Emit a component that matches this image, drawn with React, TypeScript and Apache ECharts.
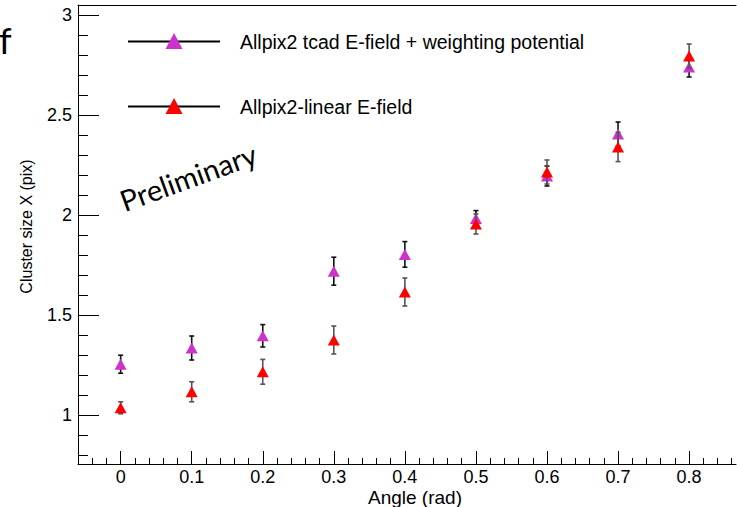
import React, { useEffect, useRef } from "react";
import * as echarts from "echarts";

const angles = [0, 0.1, 0.2, 0.3, 0.4, 0.5, 0.6, 0.7, 0.8];
const tcadValues = [1.254, 1.335, 1.396, 1.719, 1.803, 1.982, 2.195, 2.405, 2.74];
const tcadErrors = [0.045, 0.06, 0.056, 0.07, 0.064, 0.04, 0.05, 0.06, 0.05];
const linearValues = [1.036, 1.116, 1.216, 1.375, 1.615, 1.955, 2.215, 2.34, 2.795];
const linearErrors = [0.03, 0.05, 0.062, 0.07, 0.07, 0.05, 0.06, 0.073, 0.06];

const xMajorTicks = [0, 0.1, 0.2, 0.3, 0.4, 0.5, 0.6, 0.7, 0.8];
const xMinorTicks = [-0.04, -0.02, 0.02, 0.04, 0.06, 0.08, 0.12, 0.14, 0.16, 0.18, 0.22, 0.24, 0.26, 0.28, 0.32, 0.34, 0.36, 0.38, 0.42, 0.44, 0.46, 0.48, 0.52, 0.54, 0.56, 0.58, 0.62, 0.64, 0.66, 0.68, 0.72, 0.74, 0.76, 0.78, 0.82, 0.84, 0.86];
const yMajorTicks = [1, 1.5, 2, 2.5, 3];
const yMinorTicks = [0.8, 0.9, 1.1, 1.2, 1.3, 1.4, 1.6, 1.7, 1.8, 1.9, 2.1, 2.2, 2.3, 2.4, 2.6, 2.7, 2.8, 2.9, 3.0];

const legendLabels = ["Allpix2 tcad E-field + weighting potential", "Allpix2-linear E-field"];
const xTitle = "Angle (rad)";
const yTitle = "Cluster size X (pix)";

const MAGENTA = "#cc33cc";
const RED = "#ff0000";
const FONT = "'Liberation Sans', Arial, Helvetica, sans-serif";

function errorBarSeries(values: number[], errors: number[], color: string, z: number) {
  return {
    type: "custom",
    xAxisIndex: 0,
    yAxisIndex: 0,
    z,
    silent: true,
    encode: { x: 0, y: 1 },
    data: angles.map((a, i) => [a, values[i], errors[i]]),
    renderItem: (_params: any, api: any) => {
      const x = api.value(0);
      const y = api.value(1);
      const e = api.value(2);
      const top = api.coord([x, y + e]);
      const bot = api.coord([x, y - e]);
      const cw = 2.5;
      const style = { stroke: color, lineWidth: 1.6 };
      return {
        type: "group",
        children: [
          { type: "line", shape: { x1: top[0], y1: top[1], x2: bot[0], y2: bot[1] }, style },
          { type: "line", shape: { x1: top[0] - cw, y1: top[1], x2: top[0] + cw, y2: top[1] }, style },
          { type: "line", shape: { x1: bot[0] - cw, y1: bot[1], x2: bot[0] + cw, y2: bot[1] }, style },
        ],
      };
    },
  };
}

function triangle(cx: number, cy: number, w: number, h: number) {
  return [
    [cx, cy - h / 2],
    [cx + w / 2, cy + h / 2],
    [cx - w / 2, cy + h / 2],
  ];
}

export default function App() {
  const ref = useRef<HTMLDivElement>(null);
  useEffect(() => {
    document.body.style.margin = "0";
    if (!ref.current) return;
    const chart = echarts.init(ref.current, null, { renderer: "svg" });
    const xMin = -0.06, xMax = 0.866, yMin = 0.755, yMax = 3.05;
    chart.setOption({
      animation: false,
      backgroundColor: "#ffffff",
      textStyle: { fontFamily: FONT },
      grid: { left: 78, top: 5, right: 1, bottom: 43, containLabel: false, outerBoundsMode: "none" },
      xAxis: [
        {
          type: "value", min: xMin, max: xMax, position: "bottom",
          splitLine: { show: false },
          axisLine: { show: true, onZero: false, lineStyle: { color: "#000", width: 1 } },
          axisTick: { show: true, inside: true, length: 13, customValues: xMajorTicks, lineStyle: { color: "#000", width: 1 } },
          axisLabel: { show: true, customValues: xMajorTicks, margin: 4, color: "#000", fontSize: 18, lineHeight: 18, fontFamily: FONT },
          name: xTitle, nameLocation: "middle", nameGap: 24, nameMoveOverlap: false,
          nameTextStyle: { color: "#000", fontSize: 19, lineHeight: 19, fontFamily: FONT, padding: [0, 0, 0, 16] },
        },
        {
          type: "value", min: xMin, max: xMax, position: "bottom",
          splitLine: { show: false },
          axisLine: { show: false, onZero: false },
          axisTick: { show: true, inside: true, length: 6, customValues: xMinorTicks, lineStyle: { color: "#000", width: 1 } },
          axisLabel: { show: false },
        },
        {
          type: "value", min: xMin, max: xMax, position: "top",
          splitLine: { show: false },
          axisLine: { show: true, onZero: false, lineStyle: { color: "#000", width: 1 } },
          axisTick: { show: false },
          axisLabel: { show: false },
        },
      ],
      yAxis: [
        {
          type: "value", min: yMin, max: yMax, position: "left",
          splitLine: { show: false },
          axisLine: { show: true, onZero: false, lineStyle: { color: "#000", width: 1 } },
          axisTick: { show: true, inside: true, length: 21, customValues: yMajorTicks, lineStyle: { color: "#000", width: 1 } },
          axisLabel: { show: true, customValues: yMajorTicks, margin: 6, color: "#000", fontSize: 18, fontFamily: FONT },
          name: yTitle, nameLocation: "middle", nameGap: 44, nameRotate: 90, nameMoveOverlap: false,
          nameTextStyle: { color: "#000", fontSize: 16, fontFamily: FONT, padding: [0, 0, 0, 16] },
        },
        {
          type: "value", min: yMin, max: yMax, position: "left",
          splitLine: { show: false },
          axisLine: { show: false, onZero: false },
          axisTick: { show: true, inside: true, length: 10, customValues: yMinorTicks, lineStyle: { color: "#000", width: 1 } },
          axisLabel: { show: false },
        },
      ],
      series: [
        errorBarSeries(tcadValues, tcadErrors, "#111111", 2),
        {
          type: "scatter", name: legendLabels[0], xAxisIndex: 0, yAxisIndex: 0, z: 3,
          symbol: "triangle", symbolSize: [12, 11],
          itemStyle: { color: MAGENTA, opacity: 1 },
          data: angles.map((a, i) => [a, tcadValues[i]]),
        },
        errorBarSeries(linearValues, linearErrors, "#555555", 4),
        {
          type: "scatter", name: legendLabels[1], xAxisIndex: 0, yAxisIndex: 0, z: 5,
          symbol: "triangle", symbolSize: [12, 11],
          itemStyle: { color: RED, opacity: 1 },
          data: angles.map((a, i) => [a, linearValues[i]]),
        },
      ],
      graphic: [
        { type: "line", shape: { x1: 128, y1: 41.5, x2: 220, y2: 41.5 }, style: { stroke: "#000", lineWidth: 2 }, z: 10 },
        { type: "polygon", shape: { points: triangle(174, 41, 17, 16) }, style: { fill: MAGENTA }, z: 11 },
        { type: "text", x: 240, y: 42, style: { text: legendLabels[0], font: `19.5px ${FONT}`, fill: "#000", align: "left", verticalAlign: "middle" }, z: 11 },
        { type: "line", shape: { x1: 128, y1: 106.5, x2: 220, y2: 106.5 }, style: { stroke: "#000", lineWidth: 2 }, z: 10 },
        { type: "polygon", shape: { points: triangle(174, 106, 17, 16) }, style: { fill: RED }, z: 11 },
        { type: "text", x: 240, y: 107, style: { text: legendLabels[1], font: `19.5px ${FONT}`, fill: "#000", align: "left", verticalAlign: "middle" }, z: 11 },
        {
          type: "text", x: 188, y: 177, rotation: (20 * Math.PI) / 180,
          style: { text: "Preliminary", font: `29px Lato, 'Open Sans', sans-serif`, fill: "#000", align: "center", verticalAlign: "middle" }, z: 11,
        },
        {
          type: "text", x: -1, y: 40,
          style: { text: "f", font: `36px Lato, 'Open Sans', sans-serif`, fill: "#000", align: "left", verticalAlign: "middle" }, z: 11,
        },
      ],
    });
    return () => chart.dispose();
  }, []);
  return <div ref={ref} style={{ width: 737, height: 507 }} />;
}
